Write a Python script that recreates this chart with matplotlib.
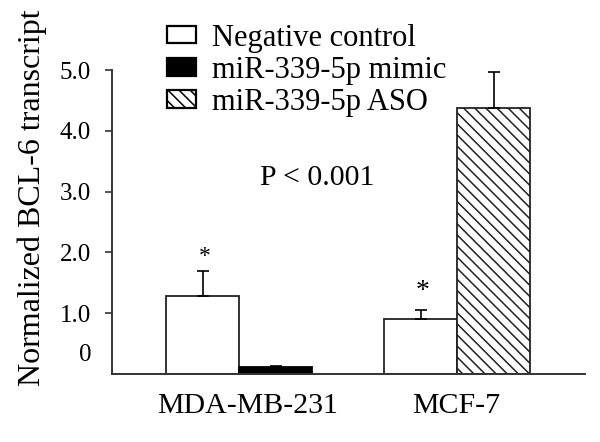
import numpy as np
import matplotlib.pyplot as plt
from matplotlib.patches import Patch

cell_lines = ['MDA-MB-231', 'MCF-7']
series_names = ['Negative control', 'miR-339-5p mimic', 'miR-339-5p ASO']
neg_ctrl = [1.28, 0.90]
neg_ctrl_err = [0.41, 0.15]
mimic = [0.12, np.nan]
mimic_err = [0.02, np.nan]
aso = [np.nan, 4.38]
aso_err = [np.nan, 0.59]
star_y = [1.93, 1.36]
yticks = [1, 2, 3, 4, 5]
ytick_labels = ['1.0', '2.0', '3.0', '4.0', '5.0']

plt.rcParams['font.family'] = ['Liberation Serif', 'DejaVu Serif']
plt.rcParams['hatch.linewidth'] = 1.1

fig = plt.figure(figsize=(6, 4.42), dpi=100)
ax = fig.add_axes([0.1867, 0.1538, 0.975 - 0.1867, 0.8416 - 0.1538])

x = np.arange(len(cell_lines))
w = 0.335
err_kw = dict(ecolor='black', elinewidth=1.2, capsize=4, capthick=1.2)

def up_err(e):
    e = np.nan_to_num(np.array(e, dtype=float))
    return [np.zeros_like(e), e]

ax.bar(x - w / 2, neg_ctrl, w, color='white', edgecolor='#222222', linewidth=1.3,
       yerr=up_err(neg_ctrl_err), error_kw=err_kw)
ax.bar(x[:1] + w / 2, mimic[:1], w, color='black', edgecolor='black', linewidth=1.3,
       yerr=up_err(mimic_err[:1]), error_kw=err_kw)
ax.bar(x[1:] + w / 2, aso[1:], w, color='white', edgecolor='#222222', linewidth=1.3,
       hatch='\\\\\\', yerr=up_err(aso_err[1:]), error_kw=err_kw)

for xi, sy, fs in zip(x - w / 2, star_y, [17, 20]):
    ax.text(xi + 0.01, sy, '*', ha='center', va='center', fontsize=fs)

ax.text(0.36, 3.22, 'P < 0.001', ha='center', va='center', fontsize=21.5)

ax.set_xlim(-0.5826, 1.587)
ax.set_ylim(0, 5)
ax.set_yticks(yticks)
ax.set_yticklabels(ytick_labels, fontsize=18)
ax.tick_params(axis='y', direction='out', length=5, width=1.2, pad=10, color='#333333')
# the zero label sits a little above the axis line
ax.annotate('0', xy=(0, 0), xycoords=('axes fraction', 'data'),
            xytext=(-15, 14), textcoords='offset points',
            ha='right', va='center', fontsize=18)
# group labels sit slightly off the group centres in the original
ax.set_xticks(x + np.array([0.037, -0.005]))
ax.set_xticklabels(cell_lines, fontsize=21.5)
ax.tick_params(axis='x', length=0, pad=14)

for s in ['top', 'right']:
    ax.spines[s].set_visible(False)
for s in ['left', 'bottom']:
    ax.spines[s].set_linewidth(1.4)
    ax.spines[s].set_color('#333333')

ax.set_ylabel('Normalized BCL-6 transcript', fontsize=23)
ax.yaxis.set_label_coords(-0.137, 0.579)

handles = [Patch(facecolor='white', edgecolor='black', linewidth=1.6),
           Patch(facecolor='black', edgecolor='black', linewidth=1.6),
           Patch(facecolor='white', edgecolor='black', linewidth=1.6, hatch='\\\\\\')]
fig.legend(handles, series_names, loc='upper left', bbox_to_anchor=(0.242, 0.995),
           frameon=False, fontsize=22, handlelength=0.95, handleheight=0.5,
           handletextpad=0.55, labelspacing=0.1, borderaxespad=0.3)

fig.savefig('out.png', dpi=100)
